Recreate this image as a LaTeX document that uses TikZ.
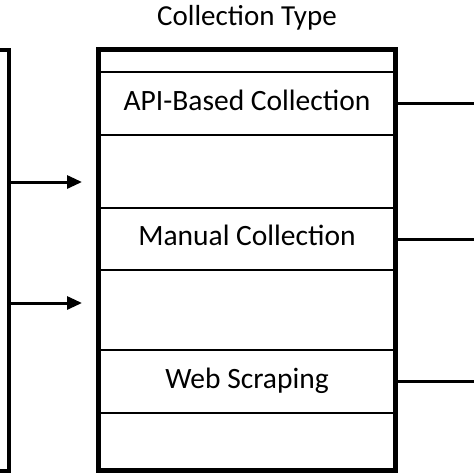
\documentclass[tikz,border=0pt]{standalone}
\usepackage{fontspec}
\setmainfont{Carlito}
\usetikzlibrary{arrows.meta,positioning}

\begin{document}
\begin{tikzpicture}[x=1pt,y=-1pt,
    row/.style={draw, line width=1.6pt, minimum width=297pt, outer sep=0pt, inner sep=0pt, text depth=7pt, font=\fontsize{29.5}{34}\selectfont},
    link/.style={line width=3pt},
    feed/.style={line width=3pt, -{Triangle[length=15pt,width=13pt]}}]
    \useasboundingbox (0,0) rectangle (474,474);

    % Title
    \node[font=\fontsize{29}{34}\selectfont] (title) at (247,18) {Collection Type};

    % Rows of the collection type box
    \node[row, minimum height=23pt] (r0) at (247,60.5) {};
    \node[row, minimum height=63pt, below=0pt of r0] (api) {API-Based Collection};
    \node[row, minimum height=73pt, below=0pt of api] (gap1) {};
    \node[row, minimum height=62pt, below=0pt of gap1] (manual) {Manual Collection};
    \node[row, minimum height=80pt, below=0pt of manual] (gap2) {};
    \node[row, minimum height=63pt, below=0pt of gap2] (web) {Web Scraping};
    \node[row, minimum height=57pt, below=0pt of web] (r6) {};

    % Outer frame
    \node[draw, line width=5pt, minimum width=297pt, minimum height=421pt, outer sep=0pt] (typebox) at (247,259.5) {};

    % Links to the right
    \coordinate (edge) at (474,0);
    \draw[link] (api.east) -- (api.east -| edge);
    \draw[link] (manual.east) -- (manual.east -| edge);
    \draw[link] (web.east) -- (web.east -| edge);

    % Bracket on the left
    \coordinate (btop) at (9,50);
    \coordinate (bbot) at (9,471);
    \draw[line width=4pt] (0,50) -- (btop) -- (bbot) -- (0,471);

    % Arrows into the box
    \coordinate (in1) at (82,182);
    \coordinate (in2) at (82,303);
    \draw[feed] (btop |- in1) -- (in1);
    \draw[feed] (btop |- in2) -- (in2);
\end{tikzpicture}
\end{document}
